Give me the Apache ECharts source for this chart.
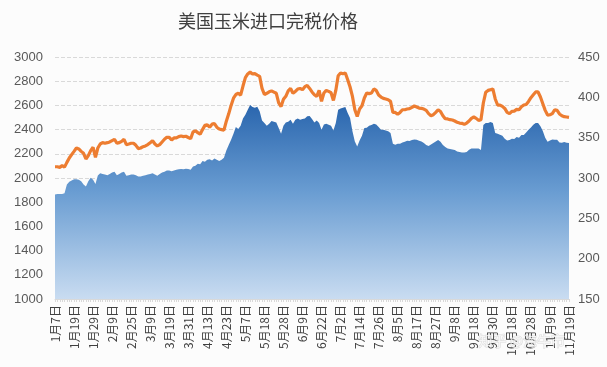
<!DOCTYPE html>
<html>
<head>
<meta charset="utf-8">
<script src="https://cdn.jsdelivr.net/npm/echarts@6/dist/echarts.min.js"></script>
<style>
html,body{margin:0;padding:0;background:#fcfcfc;}
#c{width:607px;height:367px;}
</style>
</head>
<body>
<div id="c"></div>
<script>
// Trading days (2021) per month
const tradingDays = [
  [1, [7,8,11,12,13,14,15,18,19,20,21,22,25,26,27,28,29]],
  [2, [1,2,3,4,5,7,8,9,10,18,19,20,22,23,24,25,26]],
  [3, [1,2,3,4,5,8,9,10,11,12,15,16,17,18,19,22,23,24,25,26,29,30,31]],
  [4, [1,2,6,7,8,9,12,13,14,15,16,19,20,21,22,23,25,26,27,28,29,30]],
  [5, [6,7,8,10,11,12,13,14,17,18,19,20,21,24,25,26,27,28,31]],
  [6, [1,2,3,4,7,8,9,10,11,15,16,17,18,21,22,23,24,25,28,29,30]],
  [7, [1,2,5,6,7,8,9,12,13,14,15,16,19,20,21,22,23,26,27,28,29,30]],
  [8, [2,3,4,5,6,9,10,11,12,13,16,17,18,19,20,23,24,25,26,27,30,31]],
  [9, [1,2,3,6,7,8,9,10,13,14,15,16,17,18,22,23,24,26,27,28,29,30]],
  [10, [8,9,11,12,13,14,15,18,19,20,21,22,25,26,27,28,29]],
  [11, [1,2,3,4,5,8,9,10,11,12,15,16,17,18,19]]
];
const categories = [];
tradingDays.forEach(function (m) { m[1].forEach(function (d) { categories.push(m[0] + '月' + d + '日'); }); });

// 完税价格 (元/吨), left axis — orange line
const taxPaidPrice = [
  2093,2093,2088,2102,2090,2129,2165,2193,2220,2248,2240,2220,2204,2157,2185,2226,2254,2171,2248,2281,
  2292,2287,2292,2298,2309,2320,2287,2292,2303,2320,2276,2281,2287,2287,2270,2243,2248,2259,2265,2276,
  2292,2309,2281,2265,2276,2298,2320,2336,2336,2314,2331,2331,2342,2347,2342,2345,2335,2325,2380,2390,
  2375,2362,2400,2435,2440,2420,2445,2450,2420,2405,2400,2395,2470,2530,2600,2660,2690,2700,2685,2760,
  2830,2860,2875,2860,2862,2850,2840,2740,2690,2700,2712,2720,2710,2700,2620,2590,2650,2675,2720,2740,
  2700,2715,2735,2740,2730,2755,2765,2740,2711,2688,2674,2724,2633,2702,2724,2716,2705,2641,2724,2845,
  2868,2862,2868,2812,2752,2674,2564,2509,2570,2597,2661,2702,2697,2702,2736,2724,2686,2669,2658,2653,
  2647,2633,2542,2542,2526,2542,2564,2564,2570,2573,2584,2595,2587,2578,2575,2570,2559,2532,2515,2523,
  2542,2564,2550,2515,2490,2488,2482,2479,2471,2460,2454,2452,2443,2454,2471,2493,2504,2493,2476,2482,
  2620,2708,2724,2730,2736,2653,2603,2603,2592,2575,2542,2532,2551,2553,2567,2564,2589,2603,2608,2633,
  2664,2688,2711,2711,2669,2614,2559,2520,2523,2532,2564,2559,2529,2515,2507,2504,2501
];

// CIF price (美元/吨), right axis — blue area
const cifPrice = [
  279.5,280.3,280.3,280.3,281.2,292.0,295.2,296.9,298.5,298.5,297.7,296.0,292.0,289.4,296.0,300.2,297.7,292.7,303.1,306.0,
  305.1,304.3,303.5,305.1,306.8,307.6,303.5,305.1,306.8,307.6,302.7,303.5,304.3,304.3,303.5,301.8,301.8,302.7,303.5,304.3,
  305.1,306.0,304.3,302.7,305.1,306.8,307.6,309.3,309.3,308.4,309.3,310.1,310.9,311.3,310.9,311.5,311.1,310.2,314.4,315.2,
  317.7,316.9,321.0,320.2,322.6,323.1,321.8,324.3,322.6,321.0,322.6,325.1,334.2,340.8,347.4,354.9,363.1,360.7,364.8,373.9,
  378.4,384.6,390.4,387.9,387.1,388.3,382.6,371.4,368.1,364.8,367.3,370.6,369.7,368.9,361.9,354.9,364.8,368.9,369.7,372.2,
  367.3,372.2,373.9,372.2,373.0,373.9,376.4,377.0,373.0,368.9,371.4,368.1,359.8,366.4,367.3,366.0,364.8,359.0,368.1,384.6,
  386.3,387.1,387.9,380.5,374.3,357.8,345.4,339.2,346.6,352.4,361.9,362.3,364.8,365.6,367.3,366.4,363.1,359.8,359.8,359.0,
  357.8,355.7,342.5,341.2,342.5,342.5,344.1,345.0,346.2,345.8,347.0,347.8,347.4,346.2,345.4,343.3,340.8,339.6,341.6,343.3,
  345.4,347.0,345.0,341.0,338.3,336.7,335.9,335.4,334.6,333.0,332.1,331.7,331.7,332.1,335.0,336.7,336.7,336.7,336.7,334.6,
  365.6,368.1,368.1,369.3,368.1,355.7,354.9,353.6,352.4,348.7,346.6,347.0,348.7,348.3,350.7,349.9,353.2,353.2,356.5,359.8,
  362.7,366.0,368.1,368.1,364.0,358.2,349.9,345.0,346.6,347.8,347.4,347.4,344.1,343.7,344.5,343.7,343.3
];

const chart = echarts.init(document.getElementById('c'), null, {renderer: 'canvas'});
chart.setOption({
  animation: false,
  backgroundColor: '#fcfcfc',
  title: {
    text: '美国玉米进口完税价格',
    left: 173, top: 7,
    textStyle: {fontSize: 18, fontWeight: 'normal', color: '#404040', fontFamily: 'Noto Sans CJK SC'}
  },
  grid: {left: 55, right: 38, top: 57, bottom: 68, containLabel: false},
  xAxis: {
    type: 'category',
    data: categories,
    boundaryGap: false,
    axisLine: {lineStyle: {color: '#d9d9d9'}},
    axisTick: {show: true, interval: 0, length: 3, lineStyle: {color: '#d9d9d9'}},
    axisLabel: {interval: 7, rotate: 90, fontSize: 12, color: '#404040', margin: 6, fontFamily: 'Noto Sans CJK SC'},
    splitLine: {show: false}
  },
  yAxis: [
    {
      type: 'value', min: 1000, max: 3000, interval: 200,
      axisLine: {show: false}, axisTick: {show: false},
      axisLabel: {fontSize: 13, color: '#595959', margin: 12, fontFamily: 'Liberation Sans',
        formatter: function (v) { return String(v); }},
      splitLine: {lineStyle: {type: 'dashed', color: '#d9d9d9'}}
    },
    {
      type: 'value', min: 150, max: 450, interval: 50,
      axisLine: {show: false}, axisTick: {show: false},
      axisLabel: {fontSize: 13, color: '#595959', margin: 9, fontFamily: 'Liberation Sans',
        formatter: function (v) { return String(v); }},
      splitLine: {show: false}
    }
  ],
  series: [
    {
      name: 'CIF',
      type: 'line',
      yAxisIndex: 1,
      data: cifPrice,
      showSymbol: false,
      lineStyle: {width: 0},
      areaStyle: {
        origin: 'start',
        opacity: 1,
        color: new echarts.graphic.LinearGradient(0, 0, 0, 1, [
          {offset: 0, color: '#2a66ae'},
          {offset: 0.45, color: '#6a9dd2'},
          {offset: 1, color: '#c9dcf1'}
        ])
      },
      z: 1
    },
    {
      name: '完税价格',
      type: 'line',
      yAxisIndex: 0,
      data: taxPaidPrice,
      showSymbol: false,
      lineStyle: {width: 3.2, color: '#ED7D31'},
      itemStyle: {color: '#ED7D31'},
      z: 3
    }
  ],
  graphic: [{
    type: 'text', left: 478, top: 333, z: 100,
    style: {text: '知乎 @海牛市', fontSize: 14, fill: 'rgba(255,255,255,0.75)', stroke: 'rgba(160,160,160,0.35)', lineWidth: 1, fontFamily: 'Noto Sans CJK SC'}
  }]
});
</script>
</body>
</html>
